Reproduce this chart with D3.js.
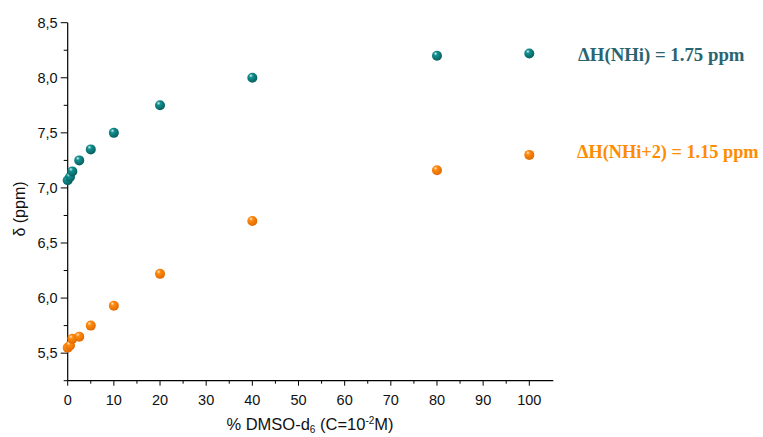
<!DOCTYPE html>
<html><head><meta charset="utf-8">
<script src="https://cdn.jsdelivr.net/npm/d3@7"></script>
<style>body{margin:0;background:#fff}svg{display:block}</style>
</head><body>
<svg id="c" width="763" height="437"></svg>
<script>
const dmso = [0, 0.5, 1, 2.5, 5, 10, 20, 40, 80, 100];
const nhi = [7.07, 7.10, 7.15, 7.25, 7.35, 7.50, 7.75, 8.00, 8.20, 8.22];
const nhi2 = [5.55, 5.57, 5.63, 5.65, 5.75, 5.93, 6.22, 6.70, 7.16, 7.30];
const xTicks = [0,10,20,30,40,50,60,70,80,90,100];
const yTicks = [5.5,6.0,6.5,7.0,7.5,8.0,8.5];
const labels = ["ΔH(NHi) = 1.75 ppm", "ΔH(NHi+2) = 1.15 ppm"];

const svg = d3.select("#c");
const x = d3.scaleLinear().domain([0,105.2]).range([67.7,553.3]);
const y = d3.scaleLinear().domain([5.25,8.5]).range([380.7,22.7]);
const fmt = d => d3.format(".1f")(d).replace(".", ",");

const defs = svg.append("defs");
function grad(id, light, mid, dark){
  const g = defs.append("radialGradient").attr("id", id).attr("cx","40%").attr("cy","35%").attr("r","65%").attr("fx","35%").attr("fy","28%");
  g.append("stop").attr("offset","0%").attr("stop-color", light);
  g.append("stop").attr("offset","30%").attr("stop-color", mid);
  g.append("stop").attr("offset","100%").attr("stop-color", dark);
}
grad("gT", "#d8f0f0", "#138f8f", "#06605f");
grad("gO", "#ffe6c8", "#ff8a10", "#e06a00");

// axes
const xa = svg.append("g").attr("transform","translate(0,380.7)");
xa.append("line").attr("x1",x(0)).attr("x2",x(105.2)).attr("stroke","#000").attr("stroke-width",1.2);
const xminor = d3.range(5,105,10);
xa.selectAll(".xM").data(xTicks).join("line").attr("x1",d=>x(d)).attr("x2",d=>x(d)).attr("y1",0).attr("y2",5).attr("stroke","#000");
xa.selectAll(".xm").data(xminor).join("line").attr("x1",d=>x(d)).attr("x2",d=>x(d)).attr("y1",0).attr("y2",3).attr("stroke","#000");
xa.selectAll("text").data(xTicks).join("text").attr("x",d=>x(d)).attr("y",24).attr("text-anchor","middle")
  .attr("font-family","Liberation Sans, Arial, sans-serif").attr("font-size",14.5).attr("fill","#111").text(d=>d);

const ya = svg.append("g").attr("transform","translate(67.7,0)");
ya.append("line").attr("y1",y(5.25)).attr("y2",y(8.5)).attr("stroke","#000").attr("stroke-width",1.2);
const yminor = [5.25,5.75,6.25,6.75,7.25,7.75,8.25];
ya.selectAll(".yM").data(yTicks).join("line").attr("y1",d=>y(d)).attr("y2",d=>y(d)).attr("x1",0).attr("x2",-7).attr("stroke","#000");
ya.selectAll(".ym").data(yminor).join("line").attr("y1",d=>y(d)).attr("y2",d=>y(d)).attr("x1",0).attr("x2",-4).attr("stroke","#000");
ya.selectAll("text").data(yTicks).join("text").attr("x",-10).attr("y",d=>y(d)+5).attr("text-anchor","end")
  .attr("font-family","Liberation Sans, Arial, sans-serif").attr("font-size",14.5).attr("fill","#111").text(fmt);

// axis labels
svg.append("text").attr("transform","translate(25,209) rotate(-90)").attr("text-anchor","middle")
  .attr("font-family","Liberation Sans, Arial, sans-serif").attr("font-size",16).attr("fill","#111").text("δ (ppm)");
const xl = svg.append("text").attr("x",310).attr("y",430).attr("text-anchor","middle")
  .attr("font-family","Liberation Sans, Arial, sans-serif").attr("font-size",16.5).attr("fill","#111");
xl.append("tspan").text("% DMSO-d");
xl.append("tspan").attr("font-size",10).attr("dy",3).text("6");
xl.append("tspan").attr("dy",-3).text(" (C=10");
xl.append("tspan").attr("font-size",10).attr("dy",-6).text("-2");
xl.append("tspan").attr("dy",6).text("M)");

// points
const pts = svg.append("g");
pts.selectAll(".o").data(dmso.map((d,i)=>[d,nhi2[i]])).join("circle")
  .attr("cx",d=>x(d[0])).attr("cy",d=>y(d[1])).attr("r",5).attr("fill","url(#gO)");
pts.selectAll(".t").data(dmso.map((d,i)=>[d,nhi[i]])).join("circle")
  .attr("cx",d=>x(d[0])).attr("cy",d=>y(d[1])).attr("r",5).attr("fill","url(#gT)");

// annotations
svg.append("text").attr("x",578).attr("y",61).attr("font-family","Liberation Serif, Times New Roman, serif")
  .attr("font-weight","bold").attr("font-size",18.8).attr("fill","#2a6470").text(labels[0]);
svg.append("text").attr("x",577).attr("y",158).attr("font-family","Liberation Serif, Times New Roman, serif")
  .attr("font-weight","bold").attr("font-size",18.3).attr("fill","#ff8c00").text(labels[1]);
</script>
</body></html>
